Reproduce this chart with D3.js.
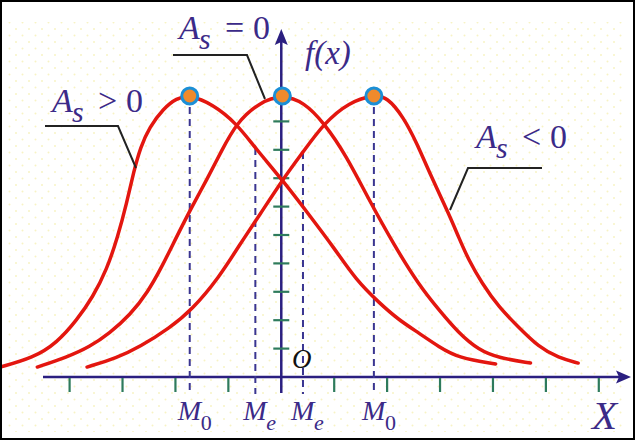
<!DOCTYPE html>
<html>
<head>
<meta charset="utf-8">
<script src="https://cdn.jsdelivr.net/npm/d3@7"></script>
<style>
  body { margin: 0; background: #fff; }
  svg { display: block; }
</style>
</head>
<body>
<div id="chart"></div>
<script>
// tick positions on both axes
var xTicks = [-4, -3, -2, -1, 1, 2, 3, 4, 5, 6];
var yTicks = [1, 2, 3, 4, 5, 6, 7, 8, 9];

// curves (x in tick units, y in tick units)
var skewPos = [[-5.31,0.35],[-4.69,0.67],[-4.24,1.20],[-3.86,2.01],[-3.56,2.82],[-3.30,3.77],[-3.09,4.93],[-2.92,6.13],[-2.79,7.22],[-2.66,8.10],[-2.49,8.80],[-2.23,9.45],[-1.98,9.82],[-1.73,9.93],[-1.30,9.61],[-0.85,8.94],[-0.49,8.06],[0.02,6.94],[0.53,5.70],[1.00,4.54],[1.41,3.42],[1.85,2.61],[2.22,2.01],[2.60,1.55],[2.98,1.06],[3.35,0.67],[4.05,0.46]];
var symmetric = [[-4.61,0.35],[-4.05,0.70],[-3.62,1.06],[-3.24,1.55],[-2.86,2.18],[-2.52,2.99],[-2.24,3.94],[-1.98,4.93],[-1.69,5.99],[-1.41,6.94],[-1.13,7.96],[-0.85,8.94],[-0.41,9.68],[0.02,9.93],[0.43,9.68],[0.81,8.94],[1.22,7.82],[1.66,6.23],[2.13,4.65],[2.60,3.24],[2.98,2.36],[3.35,1.55],[3.73,0.95],[4.11,0.67],[4.71,0.49]];
var skewNeg = [[-3.67,0.35],[-3.11,0.67],[-2.67,1.06],[-2.11,1.73],[-1.69,2.36],[-1.17,3.52],[-0.79,4.65],[-0.41,5.70],[0.02,6.94],[0.41,7.92],[0.81,8.94],[1.28,9.68],[1.75,9.93],[2.00,9.86],[2.31,9.15],[2.56,8.24],[2.82,7.11],[3.16,5.77],[3.35,4.93],[3.54,4.12],[3.79,3.31],[4.11,2.46],[4.48,1.76],[4.86,1.06],[5.24,0.67],[5.61,0.49]];

// modes (peaks) and medians
var modes = [[-1.73,9.93],[0.02,9.93],[1.75,9.93]];
var modeLines = [[-1.73,9.93],[1.75,9.93]];
var medianLines = [[-0.49,8.06],[0.41,7.92]];
var bottomLabels = [["M","0",-1.73],["M","e",-0.49],["M","e",0.41],["M","0",1.75]];

var width = 635, height = 440;
var ink = "#3b2a88", axisCol = "#2b1f80", tickCol = "#2e7b5c";
var serif = "'Liberation Serif'";

var svg = d3.select("#chart").append("svg")
    .attr("width", width)
    .attr("height", height);

// faint dotted paper
var pat = svg.append("defs").append("pattern")
    .attr("id", "dots").attr("width", 13).attr("height", 13)
    .attr("patternUnits", "userSpaceOnUse");
pat.append("circle").attr("cx", 3).attr("cy", 3).attr("r", 1).attr("fill", "#f7f3c4");
pat.append("circle").attr("cx", 9.5).attr("cy", 9.5).attr("r", 1).attr("fill", "#f7f3c4");
svg.append("rect").attr("x", 8).attr("y", 22).attr("width", 615).attr("height", 410)
    .attr("fill", "url(#dots)");

var x = d3.scaleLinear().domain([-4, 6]).range([282 - 4 * 53.1, 282 + 6 * 52.8]);
var y = d3.scaleLinear().domain([0, 10]).range([377, 93]);

// axes
svg.append("line")
    .attr("x1", 43).attr("x2", 620).attr("y1", y(0)).attr("y2", y(0))
    .attr("stroke", axisCol).attr("stroke-width", 2.5);
svg.append("path")
    .attr("d", "M631," + y(0) + "L616," + (y(0) - 6.5) + "L619," + y(0) + "L616," + (y(0) + 6.5) + "Z")
    .attr("fill", axisCol);
svg.append("line")
    .attr("x1", x(0)).attr("x2", x(0)).attr("y1", 393).attr("y2", 42)
    .attr("stroke", axisCol).attr("stroke-width", 2.5);
svg.append("path")
    .attr("d", "M" + x(0) + ",29L" + (x(0) - 6.5) + ",45L" + x(0) + ",42L" + (x(0) + 6.5) + ",45Z")
    .attr("fill", axisCol);

// ticks
svg.selectAll(".xt").data(xTicks).enter().append("line")
    .attr("x1", function(d) { return x(d); }).attr("x2", function(d) { return x(d); })
    .attr("y1", y(0) + 1).attr("y2", y(0) + 15)
    .attr("stroke", tickCol).attr("stroke-width", 2.2);
svg.selectAll(".yt").data(yTicks).enter().append("line")
    .attr("x1", x(0) - 8).attr("x2", x(0) + 8)
    .attr("y1", function(d) { return y(d); }).attr("y2", function(d) { return y(d); })
    .attr("stroke", tickCol).attr("stroke-width", 2.2);

// dashed guide lines
svg.selectAll(".guide").data(modeLines.concat(medianLines)).enter().append("line")
    .attr("x1", function(d) { return x(d[0]); }).attr("x2", function(d) { return x(d[0]); })
    .attr("y1", function(d) { return y(d[1]); }).attr("y2", 394)
    .attr("stroke", "#3a3590").attr("stroke-width", 2)
    .attr("stroke-dasharray", "7,5");

// curves
var line = d3.line()
    .x(function(d) { return x(d[0]); })
    .y(function(d) { return y(d[1]); })
    .curve(d3.curveBasis);

svg.selectAll(".curve").data([skewPos, symmetric, skewNeg]).enter().append("path")
    .attr("d", line)
    .attr("fill", "none")
    .attr("stroke", "#e3160f")
    .attr("stroke-width", 3.5)
    .attr("stroke-linecap", "round");

// peaks
svg.selectAll(".peak").data(modes).enter().append("circle")
    .attr("cx", function(d) { return x(d[0]); })
    .attr("cy", function(d) { return y(d[1]) + 1; })
    .attr("r", 8)
    .attr("fill", "#f08a2c")
    .attr("stroke", "#1b8fd6")
    .attr("stroke-width", 3);

// leader lines
var leaders = [
    [[45,126],[118,126],[136,168]],
    [[173,55],[247,55],[265,99]],
    [[542,168],[468,168],[450,210]]
];
svg.selectAll(".leader").data(leaders).enter().append("path")
    .attr("d", d3.line())
    .attr("fill", "none")
    .attr("stroke", "#222")
    .attr("stroke-width", 2);

function txt(parent, tx, ty, size, italic, s, col) {
    return parent.append("text").attr("x", tx).attr("y", ty)
        .attr("fill", col || ink)
        .style("font-family", serif)
        .style("font-size", size + "px")
        .style("font-style", italic ? "italic" : "normal")
        .text(s);
}

// A_s labels
function asLabel(x0, base, sign) {
    txt(svg, x0, base, 34, true, "A");
    txt(svg, x0 + 20, base + 10, 30, true, "s");
    txt(svg, x0 + 46, base, 34, false, sign);
    txt(svg, x0 + 74, base, 34, false, "0");
}
asLabel(52, 112, ">");
asLabel(179, 39, "=");
asLabel(476, 148, "<");

// f(x)
txt(svg, 305, 64, 33, true, "f(x)");

// origin
txt(svg, 292, 368, 27, true, "O", "#111");

// M labels under the axis
bottomLabels.forEach(function(d) {
    txt(svg, x(d[2]) - 12, 420, 28, true, d[0]);
    txt(svg, x(d[2]) + 11, 430, 22, d[1] == "e", d[1]);
});

// X label
txt(svg, 592, 429, 41, true, "X");

// frame
svg.append("rect").attr("x", 1).attr("y", 1).attr("width", width - 2).attr("height", height - 2)
    .attr("fill", "none").attr("stroke", "#000").attr("stroke-width", 2);
</script>
</body>
</html>
